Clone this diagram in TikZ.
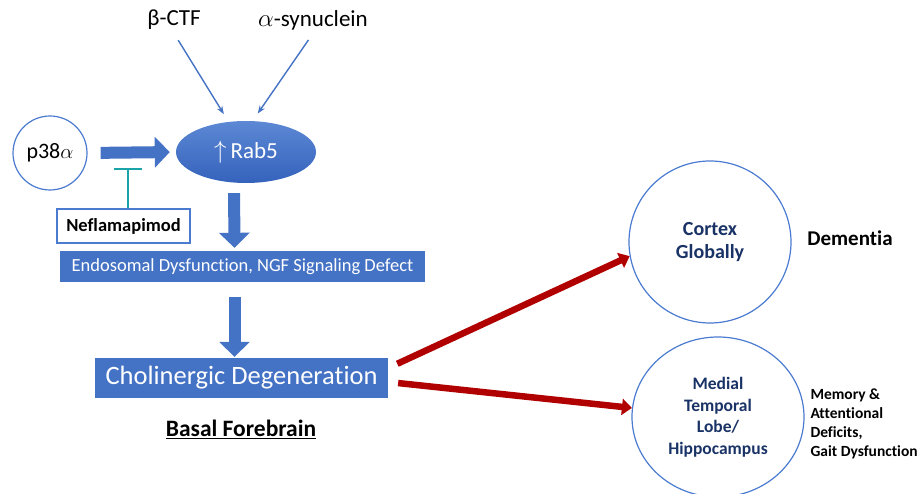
\documentclass[tikz,border=0pt]{standalone}
\usepackage{fontspec}
\setmainfont[Ligatures=NoCommon]{Carlito}
\usetikzlibrary{shapes.geometric,arrows.meta}

\definecolor{boxblue}{HTML}{4472C4}
\definecolor{ringblue}{HTML}{4A7BD0}
\definecolor{rabtop}{HTML}{5C88D4}
\definecolor{rabbot}{HTML}{3562BC}
\definecolor{darkred}{HTML}{B00000}
\definecolor{tealline}{HTML}{1AA3A8}
\definecolor{navytext}{HTML}{1A3366}

\tikzset{
    bluebox/.style={fill=boxblue, text=white, inner sep=0pt},
    ring/.style={draw=ringblue, line width=1.2pt, fill=white, inner sep=0pt},
    bigarrow/.style={draw=boxblue, line width=12pt, -{Triangle[width=30pt,length=15pt]}},
    thinarrow/.style={draw=boxblue, line width=1.4pt, -{Stealth[length=8pt,width=6pt]}},
    redarrow/.style={draw=darkred, line width=6.5pt, -{Triangle[width=16pt,length=10pt]}},
    inhibit/.style={draw=tealline, line width=1.6pt, -{Bar[width=28pt]}},
    regiontext/.style={text=navytext, font=\fontsize{17.5}{21.5}\selectfont\bfseries, align=center},
}

\begin{document}
\begin{tikzpicture}[x=1pt,y=-1pt]
            \useasboundingbox (0,0) rectangle (922,494);
            % upstream
            \node (bctf) at (174,20) {\fontsize{23}{26}\selectfont β-CTF};
            \node (asyn) at (313,20) {\fontsize{23}{26}\selectfont $\alpha$-synuclein};
            \node[ring, circle, minimum size=74pt] (p38) at (50,153) {\fontsize{22}{24}\selectfont p38$\alpha$};
            \node[ellipse, minimum width=140pt, minimum height=62pt, inner sep=0pt,
                  top color=rabtop, bottom color=rabbot, text=white] (rab5) at (246,152)
                  {\fontsize{23}{26}\selectfont $\uparrow$\,Rab5};
            \node[draw=ringblue, line width=1.2pt, fill=white, minimum width=133pt, minimum height=34pt,
                  inner sep=0pt] (nefla) at (123.5,226) {\fontsize{18.5}{20}\selectfont\bfseries Neflamapimod};
            \coordinate (block) at (128,168);
            % cascade
            \node[bluebox, minimum width=365pt, minimum height=31pt] (endo) at (242.5,266.5)
                  {\fontsize{18.5}{20}\selectfont Endosomal Dysfunction, NGF Signaling Defect};
            \node[bluebox, minimum width=293pt, minimum height=40pt] (chol) at (241.5,378)
                  {\fontsize{26.5}{30}\selectfont Cholinergic Degeneration};
            \node (basal) at (241,429) {\fontsize{23.5}{26}\selectfont\bfseries\underline{Basal Forebrain}};
            % regions
            \node[ring, circle, minimum size=162pt, regiontext, font=\fontsize{20}{23.5}\selectfont\bfseries]
                  (cortex) at (710,242) {Cortex\\Globally};
            \node[ring, ellipse, minimum width=172pt, minimum height=160pt, regiontext] (mtl) at (718,417)
                  {Medial\\Temporal\\Lobe/\\Hippocampus};
            \node (dementia) at (850,238) {\fontsize{21}{24}\selectfont\bfseries Dementia};
            \node[anchor=west, align=left, font=\fontsize{15.5}{19.2}\selectfont\bfseries] (deficits) at (807,424)
                  {Memory \&\\Attentional\\Deficits,\\Gait Dysfunction};
            % connectors
            \draw[thinarrow, shorten <=8pt, shorten >=9pt] (bctf.south) -- (rab5.120);
            \draw[thinarrow, shorten <=8pt, shorten >=9pt] (asyn.south) -- (rab5.78);
            \draw[bigarrow, shorten <=13pt, shorten >=6pt] (p38.east) -- (rab5.west);
            \draw[inhibit] (nefla.north -| block) -- (block);
            \draw[bigarrow, shorten <=10pt, shorten >=3pt] ([xshift=-12pt]rab5.south) -- ([xshift=-8pt]endo.north);
            \draw[bigarrow, shorten <=15pt, shorten >=1pt] ([xshift=-8pt]endo.south) -- ([xshift=-7pt]chol.north);
            \draw[redarrow, shorten <=10pt] ([yshift=10pt]chol.east) -- (cortex.190);
            \draw[redarrow, shorten <=10pt] ([yshift=-4pt]chol.east) -- (mtl.174);
\end{tikzpicture}
\end{document}
